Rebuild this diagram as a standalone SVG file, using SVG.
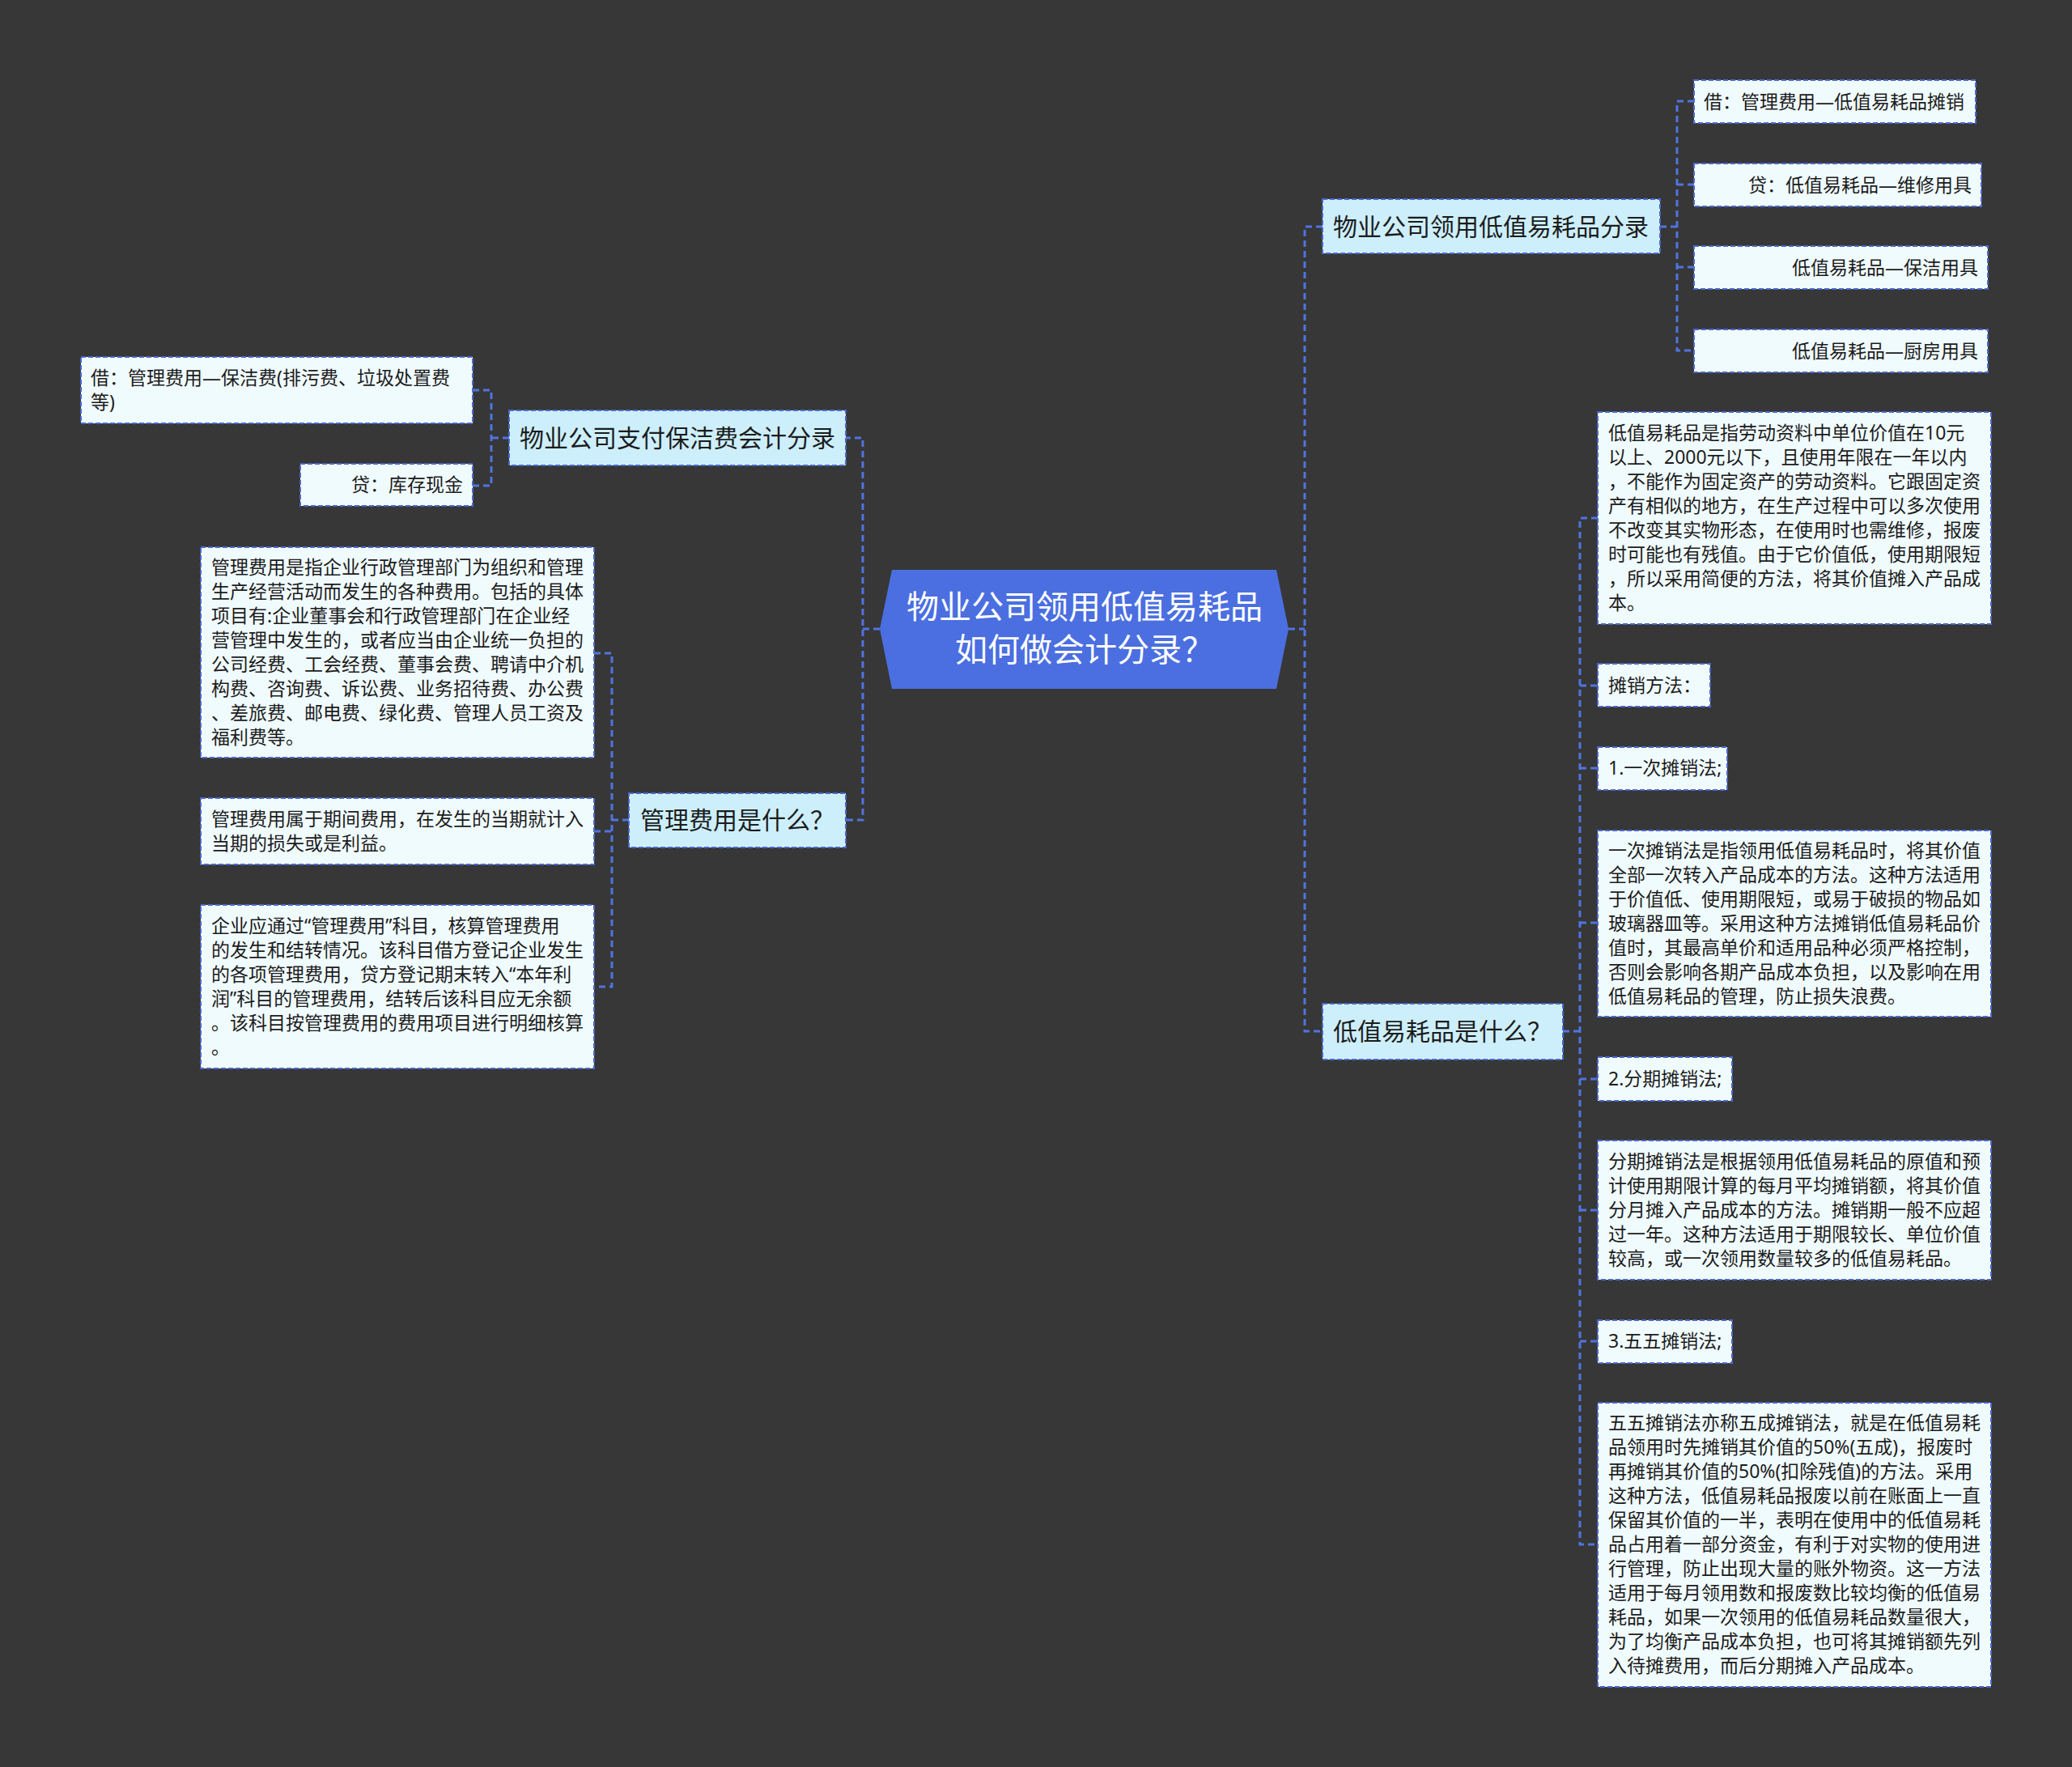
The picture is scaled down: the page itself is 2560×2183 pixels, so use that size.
<svg xmlns="http://www.w3.org/2000/svg" width="2560" height="2183" viewBox="0 0 2560 2183">
<style>
text{font-family:"Noto Sans","Noto Sans CJK SC",sans-serif;fill:#1c1c1c}
.bg{fill:#373737}
.center{fill:#4b6fe0}
.ctext{font-size:40px;fill:#ffffff;text-anchor:middle}
.branch{fill:#cdeffc;stroke:#4a68cf;stroke-width:2;stroke-dasharray:6 3}
.btext{font-size:30px;text-anchor:middle}
.leaf{fill:#f0fbfe;stroke:#4a68cf;stroke-width:2;stroke-dasharray:6 3}
.ltext{font-size:23px}
.rt{text-anchor:end}
.conn{fill:none;stroke:#5074e0;stroke-width:3;stroke-dasharray:8 5}
</style>
<rect class="bg" x="0" y="0" width="2560" height="2183"/>

<g id="connectors">
<path class="conn" d="M1087,777 H1066 M1043,541 H1066 V1013 H1045"/>
<path class="conn" d="M1592,777 H1612 M1634,280 H1612 V1274 H1634"/>
<path class="conn" d="M629,541 H607 M584,482 H607 V600 H584"/>
<path class="conn" d="M777,1013 H756 M734,807 H756 V1219 H734 M734,1027 H756"/>
<path class="conn" d="M2051,280 H2072 M2093,125 H2072 V433 H2093 M2072,228 H2093 M2072,330 H2093"/>
<path class="conn" d="M1931,1274 H1952 M1974,640 H1952 V1908 H1974 M1952,847 H1974 M1952,949 H1974 M1952,1140 H1974 M1952,1333 H1974 M1952,1495 H1974 M1952,1657 H1974"/>
</g>

<g id="root">
<polygon class="center" points="1087,777 1102,704 1577,704 1592,777 1577,851 1102,851"/>
<text class="ctext" x="1340" y="764">物业公司领用低值易耗品</text>
<text class="ctext" x="1340" y="817">如何做会计分录？</text>
</g>

<g id="b-left1">
<rect class="branch" x="629" y="507" width="416" height="68"/>
<text class="btext" x="837" y="552">物业公司支付保洁费会计分录</text>
</g>
<g id="l-left1a">
<rect class="leaf" x="100" y="441" width="484" height="82"/>
<text class="ltext"><tspan x="112" y="475">借：管理费用—保洁费(排污费、垃圾处置费</tspan><tspan x="112" y="505">等)</tspan></text>
</g>
<g id="l-left1b">
<rect class="leaf" x="371" y="573" width="213" height="52"/>
<text class="ltext rt" x="572" y="607">贷：库存现金</text>
</g>

<g id="b-left2">
<rect class="branch" x="777" y="980" width="268" height="67"/>
<text class="btext" x="911" y="1024">管理费用是什么？</text>
</g>
<g id="l-left2a">
<rect class="leaf" x="248" y="676" width="486" height="260"/>
<text class="ltext"><tspan x="261" y="709">管理费用是指企业行政管理部门为组织和管理</tspan><tspan x="261" y="739">生产经营活动而发生的各种费用。包括的具体</tspan><tspan x="261" y="769">项目有:企业董事会和行政管理部门在企业经</tspan><tspan x="261" y="799">营管理中发生的，或者应当由企业统一负担的</tspan><tspan x="261" y="829">公司经费、工会经费、董事会费、聘请中介机</tspan><tspan x="261" y="859">构费、咨询费、诉讼费、业务招待费、办公费</tspan><tspan x="261" y="889">、差旅费、邮电费、绿化费、管理人员工资及</tspan><tspan x="261" y="919">福利费等。</tspan></text>
</g>
<g id="l-left2b">
<rect class="leaf" x="248" y="986" width="486" height="82"/>
<text class="ltext"><tspan x="261" y="1020">管理费用属于期间费用，在发生的当期就计入</tspan><tspan x="261" y="1050">当期的损失或是利益。</tspan></text>
</g>
<g id="l-left2c">
<rect class="leaf" x="248" y="1118" width="486" height="202"/>
<text class="ltext"><tspan x="261" y="1152">企业应通过“管理费用”科目，核算管理费用</tspan><tspan x="261" y="1182">的发生和结转情况。该科目借方登记企业发生</tspan><tspan x="261" y="1212">的各项管理费用，贷方登记期末转入“本年利</tspan><tspan x="261" y="1242">润”科目的管理费用，结转后该科目应无余额</tspan><tspan x="261" y="1272">。该科目按管理费用的费用项目进行明细核算</tspan><tspan x="261" y="1302">。</tspan></text>
</g>

<g id="b-right1">
<rect class="branch" x="1634" y="246" width="417" height="67"/>
<text class="btext" x="1842" y="291">物业公司领用低值易耗品分录</text>
</g>
<g id="l-right1a">
<rect class="leaf" x="2093" y="99" width="348" height="53"/>
<text class="ltext" x="2105" y="134">借：管理费用—低值易耗品摊销</text>
</g>
<g id="l-right1b">
<rect class="leaf" x="2093" y="202" width="355" height="53"/>
<text class="ltext rt" x="2436" y="237">贷：低值易耗品—维修用具</text>
</g>
<g id="l-right1c">
<rect class="leaf" x="2093" y="304" width="363" height="53"/>
<text class="ltext rt" x="2444" y="339">低值易耗品—保洁用具</text>
</g>
<g id="l-right1d">
<rect class="leaf" x="2093" y="407" width="363" height="53"/>
<text class="ltext rt" x="2444" y="442">低值易耗品—厨房用具</text>
</g>

<g id="b-right2">
<rect class="branch" x="1634" y="1240" width="297" height="69"/>
<text class="btext" x="1782" y="1285">低值易耗品是什么？</text>
</g>
<g id="l-right2a">
<rect class="leaf" x="1974" y="509" width="486" height="262"/>
<text class="ltext"><tspan x="1987" y="543">低值易耗品是指劳动资料中单位价值在10元</tspan><tspan x="1987" y="573">以上、2000元以下，且使用年限在一年以内</tspan><tspan x="1987" y="603">，不能作为固定资产的劳动资料。它跟固定资</tspan><tspan x="1987" y="633">产有相似的地方，在生产过程中可以多次使用</tspan><tspan x="1987" y="663">不改变其实物形态，在使用时也需维修，报废</tspan><tspan x="1987" y="693">时可能也有残值。由于它价值低，使用期限短</tspan><tspan x="1987" y="723">，所以采用简便的方法，将其价值摊入产品成</tspan><tspan x="1987" y="753">本。</tspan></text>
</g>
<g id="l-right2b">
<rect class="leaf" x="1974" y="820" width="139" height="53"/>
<text class="ltext" x="1987" y="855">摊销方法：</text>
</g>
<g id="l-right2c">
<rect class="leaf" x="1974" y="923" width="160" height="53"/>
<text class="ltext" x="1987" y="957">1.一次摊销法;</text>
</g>
<g id="l-right2d">
<rect class="leaf" x="1974" y="1026" width="486" height="230"/>
<text class="ltext"><tspan x="1987" y="1059">一次摊销法是指领用低值易耗品时，将其价值</tspan><tspan x="1987" y="1089">全部一次转入产品成本的方法。这种方法适用</tspan><tspan x="1987" y="1119">于价值低、使用期限短，或易于破损的物品如</tspan><tspan x="1987" y="1149">玻璃器皿等。采用这种方法摊销低值易耗品价</tspan><tspan x="1987" y="1179">值时，其最高单价和适用品种必须严格控制，</tspan><tspan x="1987" y="1209">否则会影响各期产品成本负担，以及影响在用</tspan><tspan x="1987" y="1239">低值易耗品的管理，防止损失浪费。</tspan></text>
</g>
<g id="l-right2e">
<rect class="leaf" x="1974" y="1306" width="166" height="54"/>
<text class="ltext" x="1987" y="1341">2.分期摊销法;</text>
</g>
<g id="l-right2f">
<rect class="leaf" x="1974" y="1409" width="486" height="172"/>
<text class="ltext"><tspan x="1987" y="1443">分期摊销法是根据领用低值易耗品的原值和预</tspan><tspan x="1987" y="1473">计使用期限计算的每月平均摊销额，将其价值</tspan><tspan x="1987" y="1503">分月摊入产品成本的方法。摊销期一般不应超</tspan><tspan x="1987" y="1533">过一年。这种方法适用于期限较长、单位价值</tspan><tspan x="1987" y="1563">较高，或一次领用数量较多的低值易耗品。</tspan></text>
</g>
<g id="l-right2g">
<rect class="leaf" x="1974" y="1631" width="166" height="53"/>
<text class="ltext" x="1987" y="1665">3.五五摊销法;</text>
</g>
<g id="l-right2h">
<rect class="leaf" x="1974" y="1733" width="486" height="351"/>
<text class="ltext"><tspan x="1987" y="1766">五五摊销法亦称五成摊销法，就是在低值易耗</tspan><tspan x="1987" y="1796">品领用时先摊销其价值的50%(五成)，报废时</tspan><tspan x="1987" y="1826">再摊销其价值的50%(扣除残值)的方法。采用</tspan><tspan x="1987" y="1856">这种方法，低值易耗品报废以前在账面上一直</tspan><tspan x="1987" y="1886">保留其价值的一半，表明在使用中的低值易耗</tspan><tspan x="1987" y="1916">品占用着一部分资金，有利于对实物的使用进</tspan><tspan x="1987" y="1946">行管理，防止出现大量的账外物资。这一方法</tspan><tspan x="1987" y="1976">适用于每月领用数和报废数比较均衡的低值易</tspan><tspan x="1987" y="2006">耗品，如果一次领用的低值易耗品数量很大，</tspan><tspan x="1987" y="2036">为了均衡产品成本负担，也可将其摊销额先列</tspan><tspan x="1987" y="2066">入待摊费用，而后分期摊入产品成本。</tspan></text>
</g>
</svg>
